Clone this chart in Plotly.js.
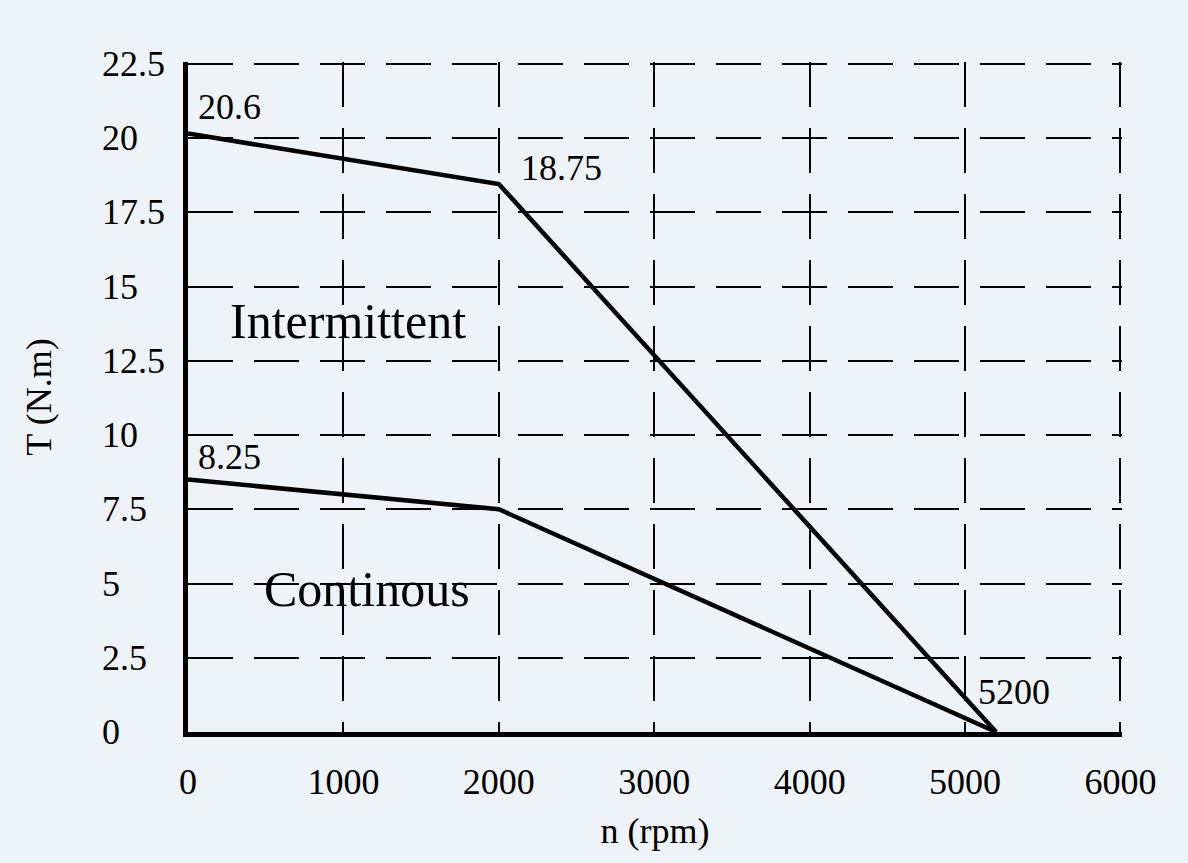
<!DOCTYPE html>
<html>
<head>
<meta charset="utf-8">
<script src="https://cdn.plot.ly/plotly-3.0.1.min.js"></script>
<style>
html,body{margin:0;padding:0;background:#eef3f7;}
#chart{width:1188px;height:863px;}
</style>
</head>
<body>
<div id="chart"></div>
<script>
// Data
const intermittentSpeed = [0, 2000, 5200];
const intermittentTorque = [20.15, 18.45, 0];
const continuousSpeed = [0, 2000, 5200];
const continuousTorque = [8.5, 7.5, 0];

const xTickValues = [0, 1000, 2000, 3000, 4000, 5000, 6000];
const xTickLabels = ["0", "1000", "2000", "3000", "4000", "5000", "6000"];
const yTickValues = [0, 2.5, 5, 7.5, 10, 12.5, 15, 17.5, 20, 22.5];
const yTickLabels = ["0", "2.5", "5", "7.5", "10", "12.5", "15", "17.5", "20", "22.5"];

const pointLabels = ["20.6", "18.75", "8.25", "5200"];
const pointLabelX = [0, 2000, 0, 5200];
const pointLabelY = [20.6, 18.75, 8.25, 0];
const regionLabels = ["Intermittent", "Continous"];
const regionLabelX = [1030, 1150];
const regionLabelY = [13.85, 4.8];

const FONT = "'Liberation Serif', 'DejaVu Serif', serif";

const traces = [
  {x: intermittentSpeed, y: intermittentTorque, mode: "lines", line: {color: "#000", width: 4.5}, hoverinfo: "skip"},
  {x: continuousSpeed, y: continuousTorque, mode: "lines", line: {color: "#000", width: 4.5}, hoverinfo: "skip"}
];

const annotations = [];
yTickValues.forEach((v, i) => {
  annotations.push({xref: "paper", yref: "y", x: -0.094, y: v, xanchor: "left", yanchor: "middle",
    text: yTickLabels[i], showarrow: false, font: {family: FONT, size: 36, color: "#000"}});
});
const offs = [[8, 13], [20, 7], [8, 30], [-20, 40]];
pointLabels.forEach((t, i) => {
  annotations.push({xref: "x", yref: "y", x: pointLabelX[i], y: pointLabelY[i], xanchor: "left", yanchor: "middle",
    xshift: offs[i][0], yshift: offs[i][1], text: t, showarrow: false,
    font: {family: FONT, size: 36, color: "#000"}});
});
regionLabels.forEach((t, i) => {
  annotations.push({xref: "x", yref: "y", x: regionLabelX[i], y: regionLabelY[i], xanchor: "center", yanchor: "middle",
    text: t, showarrow: false, font: {family: FONT, size: 50, color: "#000"}});
});

const layout = {
  width: 1188, height: 863,
  paper_bgcolor: "#eef3f7", plot_bgcolor: "#eef3f7",
  margin: {l: 188, r: 66.4, t: 62.2, b: 131},
  showlegend: false,
  font: {family: FONT, color: "#000"},
  xaxis: {
    range: [0, 6010], tickvals: xTickValues, ticktext: xTickLabels,
    showgrid: true, gridcolor: "#000", gridwidth: 2, griddash: "45px,21px",
    zeroline: false, showline: true, linecolor: "#000", linewidth: 5,
    ticks: "", ticklabelstandoff: 14,
    tickfont: {family: FONT, size: 36, color: "#000"},
    title: {text: "n (rpm)", font: {family: FONT, size: 36, color: "#000"}, standoff: 18}
  },
  yaxis: {
    range: [0, 22.56], tickvals: yTickValues, showticklabels: false,
    showgrid: true, gridcolor: "#000", gridwidth: 2, griddash: "45px,21px",
    zeroline: false, showline: true, linecolor: "#000", linewidth: 5,
    ticks: "",
    title: {text: "T (N.m)", font: {family: FONT, size: 36, color: "#000"}, standoff: 122}
  },
  annotations: annotations
};

Plotly.newPlot("chart", traces, layout, {displayModeBar: false, staticPlot: true});
</script>
</body>
</html>
